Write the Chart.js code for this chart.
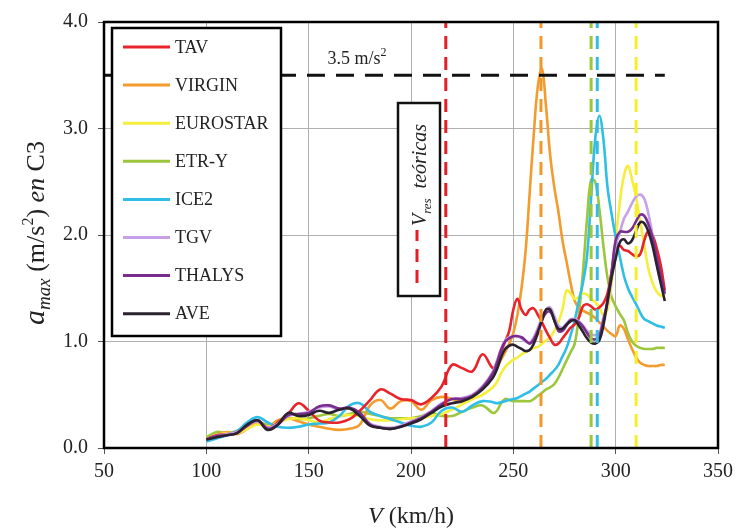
<!DOCTYPE html>
<html>
<head>
<meta charset="utf-8">
<script src="https://cdn.jsdelivr.net/npm/chart.js@4.4.0/dist/chart.umd.min.js"></script>
<style>
  html, body { margin: 0; padding: 0; background: #fff; }
  #wrap { width: 739px; height: 532px; }
</style>
</head>
<body>
<div id="wrap"><canvas id="grafico" width="739" height="532"></canvas></div>
<script>
// Velocidades de paso (km/h): cada 5 hasta 240, cada 2 después
const velocidades = [100,105,110,115,120,125,130,135,140,145,150,155,160,165,170,175,180,185,190,195,200,205,210,215,220,225,230,235,240,
  242,244,246,248,250,252,254,256,258,260,262,264,266,268,270,272,274,276,278,280,282,284,286,288,290,292,294,296,298,300,302,304,306,308,310,312,314,316,318,320,322,324];

// Aceleración máxima en C3 (m/s2) por tren
const tav = [0.08,0.12,0.13,0.15,0.21,0.26,0.19,0.24,0.32,0.42,0.35,0.26,0.24,0.24,0.27,0.35,0.45,0.55,0.51,0.46,0.45,0.41,0.47,0.58,0.78,0.75,0.72,0.88,0.75,
  0.80,0.90,1.00,1.10,1.30,1.40,1.30,1.25,1.30,1.31,1.25,1.18,1.10,1.03,0.97,0.98,1.03,1.08,1.13,1.16,1.22,1.33,1.35,1.33,1.30,1.32,1.36,1.45,1.65,1.88,1.90,1.86,1.85,1.82,1.80,1.82,1.95,2.04,2.00,1.88,1.72,1.48];
const virgin = [0.08,0.12,0.15,0.13,0.18,0.24,0.20,0.26,0.28,0.25,0.22,0.20,0.18,0.17,0.18,0.22,0.40,0.45,0.37,0.44,0.44,0.36,0.45,0.48,0.46,0.43,0.48,0.57,0.70,
  0.76,0.83,0.90,0.98,1.08,1.25,1.50,1.85,2.40,2.95,3.40,3.56,3.20,2.75,2.45,2.22,1.95,1.75,1.55,1.38,1.32,1.29,1.27,1.25,1.22,1.18,1.14,1.10,1.07,1.05,1.15,1.12,1.02,0.93,0.85,0.80,0.78,0.77,0.77,0.77,0.78,0.78];
const eurostar = [0.07,0.12,0.14,0.14,0.18,0.22,0.20,0.24,0.27,0.28,0.26,0.24,0.27,0.30,0.31,0.30,0.27,0.26,0.26,0.27,0.28,0.28,0.30,0.32,0.36,0.41,0.46,0.50,0.57,
  0.62,0.70,0.76,0.80,0.83,0.85,0.88,0.90,0.92,0.94,0.95,0.98,1.01,1.04,1.10,1.18,1.30,1.48,1.45,1.40,1.42,1.45,1.44,1.40,1.37,1.32,1.25,1.30,1.55,1.95,2.30,2.55,2.65,2.52,2.35,2.12,1.90,1.68,1.55,1.47,1.43,1.42];
const etrY = [0.10,0.15,0.14,0.16,0.20,0.24,0.22,0.24,0.28,0.27,0.28,0.30,0.32,0.30,0.32,0.34,0.32,0.30,0.28,0.28,0.28,0.30,0.33,0.30,0.30,0.34,0.38,0.40,0.33,
  0.35,0.42,0.46,0.45,0.44,0.44,0.44,0.44,0.44,0.46,0.49,0.52,0.55,0.57,0.60,0.66,0.74,0.82,0.90,0.98,1.25,1.65,2.15,2.52,2.50,2.25,1.90,1.60,1.42,1.33,1.26,1.20,1.08,1.00,0.96,0.94,0.93,0.93,0.93,0.94,0.94,0.94];
const ice2 = [0.06,0.09,0.12,0.16,0.24,0.29,0.24,0.20,0.19,0.20,0.22,0.23,0.24,0.30,0.40,0.42,0.34,0.30,0.27,0.24,0.21,0.20,0.24,0.35,0.38,0.34,0.40,0.44,0.43,
  0.42,0.43,0.44,0.45,0.46,0.47,0.49,0.51,0.53,0.56,0.59,0.62,0.65,0.69,0.73,0.78,0.86,0.94,1.06,1.20,1.38,1.55,1.80,2.35,2.90,3.12,2.90,2.45,2.20,1.98,1.80,1.62,1.50,1.42,1.35,1.27,1.21,1.19,1.17,1.15,1.14,1.13];
const tgv = [0.08,0.11,0.13,0.15,0.21,0.25,0.19,0.23,0.30,0.32,0.34,0.38,0.39,0.36,0.37,0.32,0.23,0.20,0.19,0.21,0.25,0.29,0.35,0.42,0.46,0.47,0.50,0.58,0.72,
  0.82,0.93,1.01,1.04,1.05,1.05,1.03,1.00,0.99,1.04,1.13,1.22,1.30,1.32,1.24,1.15,1.13,1.17,1.21,1.21,1.19,1.15,1.10,1.07,1.06,1.08,1.22,1.35,1.60,1.90,2.02,2.15,2.22,2.30,2.36,2.38,2.34,2.20,2.00,1.75,1.56,1.44];
const thalys = [0.08,0.11,0.12,0.14,0.21,0.26,0.18,0.22,0.31,0.32,0.33,0.39,0.40,0.37,0.38,0.33,0.22,0.19,0.18,0.20,0.24,0.28,0.34,0.41,0.46,0.46,0.49,0.57,0.70,
  0.80,0.92,1.00,1.03,1.05,1.05,1.04,1.01,0.98,1.02,1.10,1.20,1.27,1.28,1.20,1.10,1.10,1.15,1.20,1.20,1.18,1.14,1.08,1.03,1.02,1.05,1.20,1.38,1.65,1.95,2.03,2.03,2.03,2.06,2.13,2.19,2.18,2.10,1.98,1.80,1.62,1.45];
const ave = [0.08,0.10,0.12,0.14,0.22,0.26,0.17,0.22,0.33,0.30,0.31,0.35,0.33,0.36,0.37,0.30,0.21,0.19,0.18,0.20,0.23,0.27,0.33,0.39,0.42,0.44,0.48,0.55,0.66,
  0.74,0.85,0.93,0.96,0.97,0.95,0.93,0.91,0.92,0.98,1.08,1.20,1.30,1.30,1.20,1.12,1.12,1.16,1.19,1.20,1.15,1.09,1.03,0.99,0.98,1.01,1.15,1.38,1.60,1.78,1.93,1.96,1.92,1.95,2.04,2.12,2.11,2.03,1.90,1.72,1.55,1.38];

const nombres = ['TAV', 'VIRGIN', 'EUROSTAR', 'ETR-Y', 'ICE2', 'TGV', 'THALYS', 'AVE'];
const series = [tav, virgin, eurostar, etrY, ice2, tgv, thalys, ave];
const colores = ['#e8232b', '#f39c2d', '#f5ee3a', '#9cc63c', '#2fbfe6', '#c6a0e8', '#7b2d8e', '#2b2230'];
const ordenDibujo = [3, 6, 5, 7, 4, 2, 1, 0];

// Velocidades de resonancia teóricas (km/h) y su color
const vResonancia = [217, 263.5, 288, 291, 310];
const coloresRes = ['#e41e26', '#f0982a', '#9cc63c', '#33bde6', '#f5ee2a'];

// Límite de aceleración
const limiteAcel = 3.5;
const limiteDesde = 50;
const limiteHasta = 324;

const fuente = "'Liberation Serif', 'Times New Roman', serif";

// Datasets de las curvas
const datasets = series.map((valores, i) => ({
    label: nombres[i],
    data: velocidades.map((v, j) => ({ x: v, y: valores[j] })),
    borderColor: colores[i],
    borderWidth: 2.6,
    pointRadius: 0,
    tension: 0.4,
    fill: false,
    order: ordenDibujo[i]
}));

// Líneas verticales discontinuas de resonancia
vResonancia.forEach((v, i) => {
    datasets.push({
        label: 'res' + i,
        data: [{ x: v, y: 0 }, { x: v, y: 4 }],
        borderColor: coloresRes[i],
        borderWidth: 3,
        borderDash: [13, 8],
        pointRadius: 0,
        order: -1
    });
});

// Línea horizontal del límite 3.5 m/s2
datasets.push({
    label: 'limite',
    data: [{ x: limiteDesde, y: limiteAcel }, { x: limiteHasta, y: limiteAcel }],
    borderColor: '#111',
    borderWidth: 3,
    borderDash: [18, 11],
    pointRadius: 0,
    order: -2
});

// Dibuja trozos de texto seguidos (para subíndices y superíndices)
function anchoTramos(ctx, tramos) {
    let w = 0;
    tramos.forEach(t => { ctx.font = t.font; w += ctx.measureText(t.text).width; });
    return w;
}
function dibujarTramos(ctx, tramos, x, y) {
    tramos.forEach(t => {
        ctx.font = t.font;
        ctx.fillText(t.text, x, y + (t.dy || 0));
        x += ctx.measureText(t.text).width;
    });
}

const anotaciones = {
    id: 'anotaciones',
    afterDatasetsDraw(chart) {
        const { ctx, chartArea: ca } = chart;
        ctx.save();
        ctx.fillStyle = '#222';
        ctx.textBaseline = 'alphabetic';
        ctx.textAlign = 'left';

        // Marco del área de gráfico
        ctx.strokeStyle = '#000';
        ctx.lineWidth = 2.5;
        ctx.strokeRect(ca.left, ca.top, ca.right - ca.left, ca.bottom - ca.top);

        // Leyenda
        ctx.fillStyle = '#fff';
        ctx.fillRect(112, 28, 169, 308);
        ctx.lineWidth = 2.5;
        ctx.strokeRect(112, 28, 169, 308);
        ctx.textBaseline = 'middle';
        nombres.forEach((n, i) => {
            const yy = 47 + i * 38.1;
            ctx.strokeStyle = colores[i];
            ctx.lineWidth = 3;
            ctx.beginPath();
            ctx.moveTo(123, yy);
            ctx.lineTo(170, yy);
            ctx.stroke();
            ctx.fillStyle = '#222';
            ctx.font = '18px ' + fuente;
            ctx.fillText(n, 175, yy + 1);
        });
        ctx.textBaseline = 'alphabetic';

        // Etiqueta del límite
        ctx.fillStyle = '#222';
        const tramosLim = [
            { text: '3.5 m/s', font: '18px ' + fuente },
            { text: '2', font: '12px ' + fuente, dy: -8 }
        ];
        dibujarTramos(ctx, tramosLim, 357 - anchoTramos(ctx, tramosLim) / 2, 64);

        // Caja "V res teóricas"
        ctx.fillStyle = '#fff';
        ctx.fillRect(398, 103, 42, 193);
        ctx.strokeStyle = '#111';
        ctx.lineWidth = 2.5;
        ctx.strokeRect(398, 103, 42, 193);
        ctx.strokeStyle = coloresRes[0];
        ctx.lineWidth = 3;
        ctx.setLineDash([13, 8]);
        ctx.beginPath();
        ctx.moveTo(417, 283);
        ctx.lineTo(417, 230);
        ctx.stroke();
        ctx.setLineDash([]);
        ctx.fillStyle = '#222';
        const tramosRes = [
            { text: 'V', font: 'italic 20px ' + fuente },
            { text: 'res', font: 'italic 13px ' + fuente, dy: 5 },
            { text: '  teóricas', font: 'italic 20px ' + fuente }
        ];
        ctx.save();
        ctx.translate(426, 175);
        ctx.rotate(-Math.PI / 2);
        dibujarTramos(ctx, tramosRes, -anchoTramos(ctx, tramosRes) / 2, 0);
        ctx.restore();

        // Título eje Y
        const tramosY = [
            { text: 'a', font: 'italic 30px ' + fuente },
            { text: 'max', font: 'italic 19px ' + fuente, dy: 6 },
            { text: ' (m/s', font: '26px ' + fuente },
            { text: '2', font: '16px ' + fuente, dy: -11 },
            { text: ') ', font: '26px ' + fuente },
            { text: 'en', font: 'italic 26px ' + fuente },
            { text: ' C3', font: '26px ' + fuente }
        ];
        ctx.save();
        ctx.translate(44, 233);
        ctx.rotate(-Math.PI / 2);
        dibujarTramos(ctx, tramosY, -anchoTramos(ctx, tramosY) / 2, 0);
        ctx.restore();

        // Título eje X
        const tramosX = [
            { text: 'V', font: 'italic 24px ' + fuente },
            { text: ' (km/h)', font: '24px ' + fuente }
        ];
        dibujarTramos(ctx, tramosX, 411 - anchoTramos(ctx, tramosX) / 2, 523);

        ctx.restore();
    }
};

new Chart(document.getElementById('grafico'), {
    type: 'line',
    data: { datasets },
    options: {
        responsive: false,
        animation: false,
        devicePixelRatio: 1,
        layout: { padding: { top: 16, right: 17, left: 0, bottom: 0 } },
        plugins: {
            legend: { display: false },
            tooltip: { enabled: false }
        },
        scales: {
            x: {
                type: 'linear',
                min: 50,
                max: 350,
                afterFit: s => { s.height = 84; },
                ticks: {
                    stepSize: 50,
                    color: '#222',
                    font: { family: fuente, size: 20 },
                    padding: 6
                },
                grid: { color: '#b0b0b0', lineWidth: 1, tickLength: 6, tickColor: '#555' },
                border: { display: false }
            },
            y: {
                min: 0,
                max: 4,
                afterFit: s => { s.width = 104; },
                ticks: {
                    stepSize: 1,
                    color: '#222',
                    font: { family: fuente, size: 20 },
                    padding: 10,
                    callback: v => v.toFixed(1)
                },
                grid: { color: '#b0b0b0', lineWidth: 1, tickLength: 6, tickColor: '#555' },
                border: { display: false }
            }
        }
    },
    plugins: [anotaciones]
});
</script>
</body>
</html>
